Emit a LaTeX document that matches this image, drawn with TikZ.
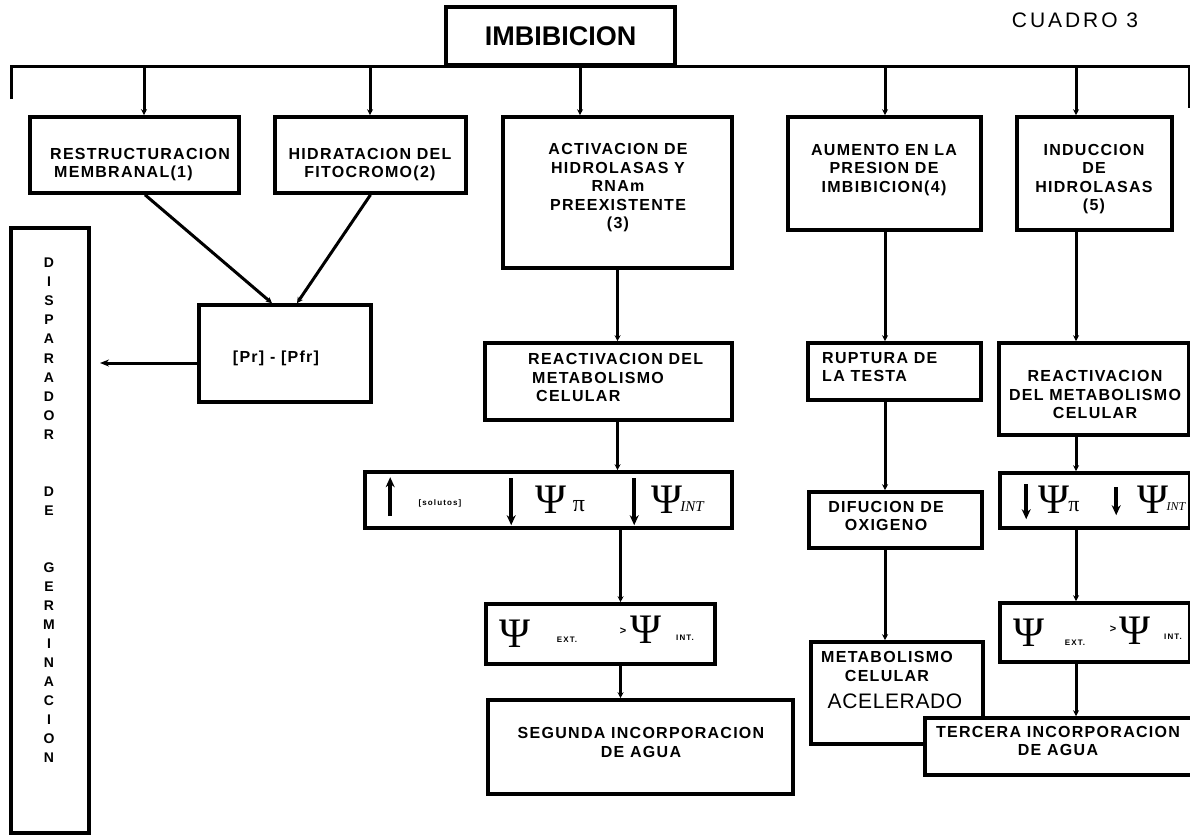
\documentclass[tikz,border=0pt]{standalone}
\usepackage{fontspec}
\newfontfamily\wide[LetterSpace=8]{Liberation Sans}
\newfontfamily\wider[LetterSpace=14]{Liberation Sans}
\newfontfamily\plain{Liberation Sans}
\newfontfamily\slight[LetterSpace=3]{Liberation Sans}
\newfontfamily\greek{Liberation Serif}
\usetikzlibrary{arrows.meta,calc}

\tikzset{
  box/.style={draw, rectangle, line width=3.6pt, inner sep=0pt, fill=white},
  txt/.style={font=\wide\bfseries\fontsize{16}{18.5}\selectfont, align=center, inner sep=0pt},
  txtl/.style={txt, align=left},
  small/.style={font=\wider\bfseries\fontsize{8}{8}\selectfont, inner sep=0pt},
  psi/.style={font=\greek\fontsize{42}{42}\selectfont, inner sep=0pt},
  sub/.style={font=\greek\itshape\fontsize{15}{15}\selectfont, inner sep=0pt},
  gt/.style={font=\plain\bfseries\fontsize{11}{11}\selectfont, inner sep=0pt},
  link/.style={line width=3pt},
  arr/.style={link, -{Stealth[length=6pt,width=6pt]}},
  thick arrow/.style={line width=3.8pt, -{Stealth[length=10pt,width=9pt]}},
}

\begin{document}
\begin{tikzpicture}[x=1pt,y=-1pt]
\useasboundingbox (0,0) rectangle (1190,836);
\fill[white] (0,0) rectangle (1190,836);

% title and heading box
\node[font=\wider\fontsize{21}{21}\selectfont, inner sep=0pt] (cuadro) at (1075,20) {CUADRO 3};
\node[box, minimum width=229pt, minimum height=58pt,
      font=\plain\bfseries\fontsize{27}{27}\selectfont] (imb) at (560.5,36) {IMBIBICION};

% first row of boxes
\node[box, minimum width=209pt, minimum height=76pt] (b1) at (134.5,155) {};
\node[box, minimum width=191pt, minimum height=76pt] (b2) at (370.5,155) {};
\node[box, minimum width=229pt, minimum height=151pt] (b3) at (617.5,192.5) {};
\node[box, minimum width=193pt, minimum height=113pt] (b4) at (884.5,173.5) {};
\node[box, minimum width=155pt, minimum height=113pt] (b5) at (1094.5,173.5) {};

\node[txtl, anchor=west] (t1) at (50,164.5) {RESTRUCTURACION\\\hspace*{4pt}MEMBRANAL(1)};
\node[txt] (t2) at (370,164.5) {HIDRATACION DEL\\FITOCROMO(2)};
\node[txt] (t3) at (618,188) {ACTIVACION DE\\HIDROLASAS Y\\RNAm\\PREEXISTENTE\\(3)};
\node[txt] (t4) at (884,170) {AUMENTO EN LA\\PRESION DE\\IMBIBICION(4)};
\node[txt] (t5) at (1094,179) {INDUCCION\\DE\\HIDROLASAS\\(5)};

% bus from the heading box
\coordinate (busL) at (11,99);
\coordinate (busR) at (1189,108);
\draw[link] (busL) -- (busL |- imb.south) -- (busR |- imb.south) -- (busR);
\coordinate (c1) at (144,65);
\coordinate (c2) at (370,65);
\coordinate (c3) at (580,65);
\coordinate (c4) at (885,65);
\coordinate (c5) at (1076,65);
\draw[arr] (c1) -- (c1 |- b1.north);
\draw[arr] (c2) -- (c2 |- b2.north);
\draw[arr] (c3) -- (c3 |- b3.north);
\draw[arr] (c4) -- (c4 |- b4.north);
\draw[arr] (c5) -- (c5 |- b5.north);

% germination trigger column
\node[box, minimum width=78pt, minimum height=605pt] (disp) at (50,530.5) {};
\node[font=\plain\bfseries\fontsize{14}{19.04}\selectfont, align=center, inner sep=0pt] (dispt) at (49,510.5)
  {D\\I\\S\\P\\A\\R\\A\\D\\O\\R\\\mbox{}\\\mbox{}\\D\\E\\\mbox{}\\\mbox{}\\G\\E\\R\\M\\I\\N\\A\\C\\I\\O\\N};

% phytochrome
\node[box, minimum width=172pt, minimum height=97pt] (pfr) at (285,353.5) {};
\node[txt] (pfrt) at (276,358) {[Pr] - [Pfr]};
\draw[arr] ($(b1.south)+(10.5,0)$) -- ($(pfr.north)+(-13,0)$);
\draw[arr] (b2.south) -- ($(pfr.north)+(12,0)$);
\coordinate (dispin) at (100,363);
\draw[link, -{Stealth[length=9pt,width=7pt]}] ($(pfr.west)+(0,9.5)$) -- (dispin);

% column 3
\node[box, minimum width=247pt, minimum height=77pt] (r3) at (608.5,381.5) {};
\node[txtl, anchor=west] (r3t) at (528,377.5) {REACTIVACION DEL\\\hspace*{4pt}METABOLISMO\\\hspace*{8pt}CELULAR};
\node[box, minimum width=367pt, minimum height=56pt] (p3) at (548.5,500) {};
\node[box, minimum width=229pt, minimum height=60pt] (q3) at (600.5,634) {};
\node[box, minimum width=305pt, minimum height=94pt] (s3) at (640.5,747) {};
\node[txt] (s3t) at (641,742.5) {SEGUNDA INCORPORACION\\DE AGUA};
\draw[arr] (b3.south) -- (b3.south |- r3.north);
\draw[arr] (b3.south |- r3.south) -- (b3.south |- p3.north);
\draw[arr] ($(b3.south |- p3.south)+(3,0)$) -- ($(b3.south |- q3.north)+(3,0)$);
\draw[arr] ($(b3.south |- q3.south)+(3,0)$) -- ($(b3.south |- s3.north)+(3,0)$);

% contents of the potential boxes, column 3
\draw[thick arrow] ($(p3.north west)+(27,46)$) -- ($(p3.north west)+(27,7)$);
\node[small] (sol) at (440,503) {[solutos]};
\draw[thick arrow] ($(p3.north west)+(148,8)$) -- ($(p3.north west)+(148,55)$);
\node[psi] (psa) at (551,500) {Ψ};
\node[font=\greek\fontsize{24}{24}\selectfont, inner sep=0pt] (pia) at (579,506) {π};
\draw[thick arrow] ($(p3.north west)+(271,8)$) -- ($(p3.north west)+(271,55)$);
\node[psi] (psb) at (667,500) {Ψ};
\node[sub] (inta) at (692,507) {INT};

\node[psi] (psc) at (515,634) {Ψ};
\node[small] (exta) at (567,640) {EXT.};
\node[gt] (gta) at (623,631) {>};
\node[psi] (psd) at (646,630) {Ψ};
\node[small] (intb) at (685,638) {INT.};

% column 4
\node[box, minimum width=173pt, minimum height=57pt] (r4) at (894.5,371.5) {};
\node[txtl, anchor=west] (r4t) at (822,367) {RUPTURA DE\\LA TESTA};
\node[box, minimum width=173pt, minimum height=56pt] (d4) at (895.5,520) {};
\node[txt] (d4t) at (886,516) {DIFUCION DE\\OXIGENO};
\node[box, minimum width=172pt, minimum height=102pt] (m4) at (897,693) {};
\node[txt] (m4t) at (887,666.5) {METABOLISMO\\CELULAR};
\node[font=\slight\fontsize{21}{21}\selectfont, inner sep=0pt] (m4a) at (895,701) {ACELERADO};
\draw[arr] (c4 |- b4.south) -- (c4 |- r4.north);
\draw[arr] (c4 |- r4.south) -- (c4 |- d4.north);
\draw[arr] (c4 |- d4.south) -- (c4 |- m4.north);

% column 5
\node[box, minimum width=190pt, minimum height=92pt] (r5) at (1094,389) {};
\node[txt] (r5t) at (1095,394.5) {REACTIVACION\\DEL METABOLISMO\\CELULAR};
\node[box, minimum width=190pt, minimum height=55pt] (p5) at (1095,500.5) {};
\node[box, minimum width=190pt, minimum height=59pt] (q5) at (1095,632.5) {};
\node[box, minimum width=267pt, minimum height=57pt] (t5) at (1058.5,746.5) {};
\node[txt] (t5t) at (1058,741) {TERCERA INCORPORACION\\DE AGUA};
\draw[arr] (c5 |- b5.south) -- (c5 |- r5.north);
\draw[arr] (c5 |- r5.south) -- (c5 |- p5.north);
\draw[arr] (c5 |- p5.south) -- (c5 |- q5.north);
\draw[arr] (c5 |- q5.south) -- (c5 |- t5.north);

% contents of the potential boxes, column 5
\draw[thick arrow] ($(p5.north west)+(28,13)$) -- ($(p5.north west)+(28,48)$);
\node[psi] (pse) at (1054,500) {Ψ};
\node[font=\greek\fontsize{22}{22}\selectfont, inner sep=0pt] (pib) at (1074,507) {π};
\draw[thick arrow] ($(p5.north west)+(118,16)$) -- ($(p5.north west)+(118,44)$);
\node[psi] (psf) at (1153,500) {Ψ};
\node[sub, font=\greek\itshape\fontsize{12}{12}\selectfont] (intc) at (1176,507) {INT};

\node[psi] (psg) at (1029,633) {Ψ};
\node[small] (extb) at (1075,643) {EXT.};
\node[gt] (gtb) at (1113,629) {>};
\node[psi] (psh) at (1135,631) {Ψ};
\node[small] (intd) at (1173,637) {INT.};
\end{tikzpicture}
\end{document}
